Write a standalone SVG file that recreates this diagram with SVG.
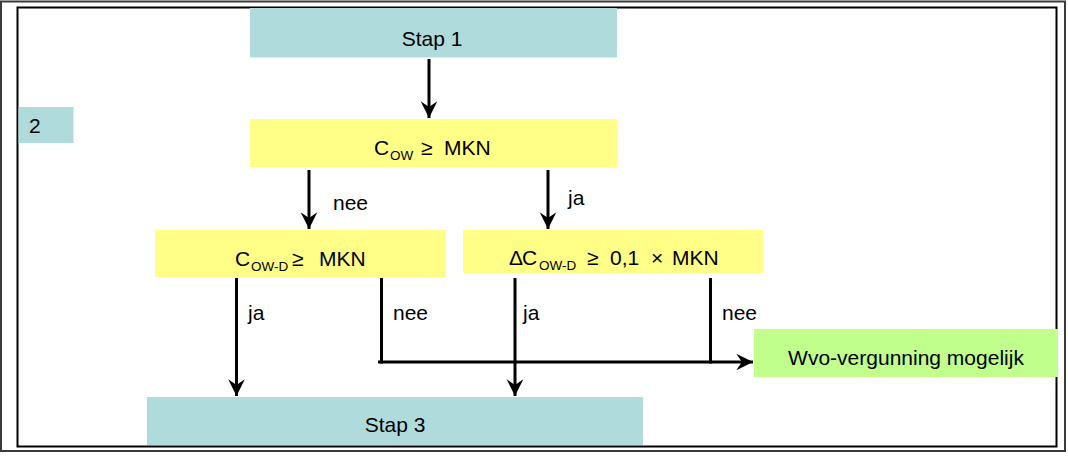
<svg xmlns="http://www.w3.org/2000/svg" width="1068" height="456" viewBox="0 0 1068 456">
<style>
text{font-family:"Liberation Sans",Arial,sans-serif;font-size:21px;fill:#000}
.sub{font-size:13.5px}
.teal{fill:#B0DBDD}
.yel{fill:#FFFF88}
.grn{fill:#C0FF8C}
.ln{stroke:#000;stroke-width:3;fill:none}
</style>
<defs>
<marker id="ah" markerUnits="userSpaceOnUse" markerWidth="20" markerHeight="20" viewBox="-16 -8 18 16" refX="0" refY="0" orient="auto">
<path d="M0,0 L-15,-7.5 L-10,0 L-15,7.5 Z" fill="#000"/>
</marker>
</defs>
<rect x="1" y="1.5" width="1064" height="449.5" fill="#fff" stroke="#3a3a3a" stroke-width="2"/>
<rect x="17.5" y="7.5" width="1039" height="439" fill="none" stroke="#000" stroke-width="2"/>
<g id="stap1"><rect class="teal" x="250" y="8" width="367" height="49.5"/><text x="432" y="46" text-anchor="middle">Stap 1</text></g>
<g id="label2"><rect class="teal" x="18.5" y="107" width="55" height="36"/><text x="29" y="133">2</text></g>
<g id="cow"><rect class="yel" x="250" y="119" width="367" height="48"/>
<text x="374" y="155">C</text><text class="sub" x="390" y="160">OW</text><text x="421" y="155">≥</text><text x="444" y="155">MKN</text></g>
<g id="cowd"><rect class="yel" x="155" y="230" width="291" height="47"/>
<text x="235" y="266">C</text><text class="sub" x="251" y="271">OW-D</text><text x="292" y="266">≥</text><text x="319" y="266">MKN</text></g>
<g id="dcowd"><rect class="yel" x="463" y="230" width="300" height="43"/>
<text x="509" y="265">Δ</text><text x="522" y="265">C</text><text class="sub" x="539" y="270">OW-D</text><text x="587" y="265">≥</text><text x="610" y="265">0,1</text><text x="651" y="265">×</text><text x="672" y="265">MKN</text></g>
<g id="wvo"><rect class="grn" x="754" y="329" width="304" height="48"/><text x="906" y="365" text-anchor="middle">Wvo-vergunning mogelijk</text></g>
<g id="stap3"><rect class="teal" x="147" y="397" width="496" height="48"/><text x="395" y="432" text-anchor="middle">Stap 3</text></g>
<g id="connectors">
<line class="ln" x1="429" y1="59" x2="429" y2="118" marker-end="url(#ah)"/>
<line class="ln" x1="309" y1="170" x2="309" y2="229" marker-end="url(#ah)"/>
<line class="ln" x1="548" y1="170" x2="548" y2="229" marker-end="url(#ah)"/>
<line class="ln" x1="236.5" y1="278" x2="236.5" y2="396" marker-end="url(#ah)"/>
<line class="ln" x1="515" y1="278" x2="515" y2="396" marker-end="url(#ah)"/>
<line class="ln" x1="381.5" y1="278" x2="381.5" y2="363.5"/>
<line class="ln" x1="710.5" y1="278" x2="710.5" y2="363.5"/>
<line class="ln" x1="378" y1="362" x2="753" y2="362" marker-end="url(#ah)"/>
<text x="333" y="210">nee</text>
<text x="568" y="205">ja</text>
<text x="248" y="320">ja</text>
<text x="393" y="320">nee</text>
<text x="523" y="320">ja</text>
<text x="722" y="320">nee</text>
</g>
</svg>
